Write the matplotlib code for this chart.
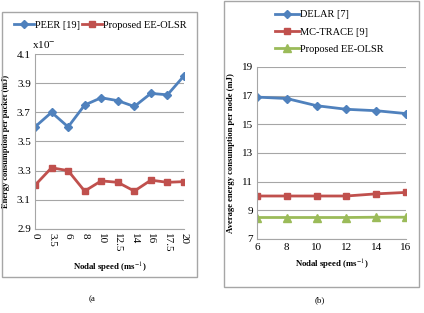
import matplotlib.pyplot as plt
from matplotlib.patches import Rectangle

plt.rcParams['font.family'] = ['Liberation Serif', 'DejaVu Serif']
plt.rcParams['mathtext.fontset'] = 'stix'

# (a) energy per packet vs nodal speed
speeds_a = ['0', '3.5', '6', '8', '10', '12.5', '14', '16', '17.5', '20']
peer = [3.60, 3.70, 3.60, 3.75, 3.80, 3.78, 3.74, 3.83, 3.82, 3.95]
eeolsr_a = [3.20, 3.32, 3.30, 3.16, 3.23, 3.22, 3.16, 3.235, 3.22, 3.225]

# (b) average energy per node vs nodal speed
speeds_b = [6, 8, 10, 12, 14, 16]
delar = [16.9, 16.8, 16.3, 16.05, 15.95, 15.75]
mctrace = [10.0, 10.0, 10.0, 10.0, 10.15, 10.25]
eeolsr_b = [8.5, 8.5, 8.5, 8.5, 8.52, 8.52]

blue, red, green = '#4F81BD', '#C0504D', '#9BBB59'
W, H = 424, 313

fig = plt.figure(figsize=(W / 100, H / 100), dpi=100)


def px_axes(x0, y0, x1, y1):
    return fig.add_axes([x0 / W, 1 - y1 / H, (x1 - x0) / W, (y1 - y0) / H])


def style(ax):
    for s in ['top', 'right']:
        ax.spines[s].set_visible(False)
    for s in ['left', 'bottom']:
        ax.spines[s].set_color('#A6A6A6')
    ax.yaxis.grid(True, color='#A6A6A6', lw=0.8)
    ax.set_axisbelow(True)
    ax.tick_params(length=0, labelsize=8, pad=3)


# panel frames
fig.patches.append(Rectangle((2 / W, 1 - 277 / H), 195 / W, 265 / H, transform=fig.transFigure,
                             fill=False, ec='#A6A6A6', lw=1))
fig.patches.append(Rectangle((224 / W, 1 - 287 / H), 195 / W, 286 / H, transform=fig.transFigure,
                             fill=False, ec='#A6A6A6', lw=1))

# panel (a)
ax1 = px_axes(35, 54, 184, 229)
xa = range(len(speeds_a))
ax1.plot(xa, peer, color=blue, marker='D', ms=4, lw=2, label='PEER [19]')
ax1.plot(xa, eeolsr_a, color=red, marker='s', ms=5, lw=2, label='Proposed EE-OLSR')
ax1.set_ylim(2.9, 4.1)
ax1.set_yticks([2.9, 3.1, 3.3, 3.5, 3.7, 3.9, 4.1])
ax1.set_yticklabels(['2.9', '3.1', '3.3', '3.5', '3.7', '3.9', '4.1'])
ax1.set_xlim(0, len(speeds_a) - 1)
ax1.set_xticks(list(xa))
ax1.set_xticklabels(speeds_a, rotation=-90)
style(ax1)
ax1.set_xlabel('Nodal speed (ms$^{-1}$)', fontsize=6.3, fontweight='bold', labelpad=6)
ax1.set_ylabel('Energy consumption per packet (mJ)', fontsize=6, fontweight='bold', labelpad=5)
ax1.text(-0.02, 1.02, 'x10$^{-}$', transform=ax1.transAxes, fontsize=8, va='bottom')
ax1.legend(loc='center', bbox_to_anchor=(0.44, 1.165), ncol=2, frameon=False,
           fontsize=7.5, handlelength=1.9, columnspacing=0.15, handletextpad=0.15, borderaxespad=0)

# panel (b)
ax2 = px_axes(257, 67, 406, 239)
ax2.plot(speeds_b, delar, color=blue, marker='D', ms=4, lw=2, label='DELAR [7]')
ax2.plot(speeds_b, mctrace, color=red, marker='s', ms=5, lw=2, label='MC-TRACE [9]')
ax2.plot(speeds_b, eeolsr_b, color=green, marker='^', ms=6, lw=2, label='Proposed EE-OLSR')
ax2.set_ylim(7, 19)
ax2.set_yticks([7, 9, 11, 13, 15, 17, 19])
ax2.set_xlim(6, 16)
ax2.set_xticks(speeds_b)
style(ax2)
ax2.set_xlabel('Nodal speed (ms$^{-1}$)', fontsize=6.3, fontweight='bold', labelpad=4)
ax2.set_ylabel('Average energy consumption per node (mJ)', fontsize=6.2, fontweight='bold', labelpad=5)
ax2.legend(loc='upper left', bbox_to_anchor=(0.09, 1.355), frameon=False, fontsize=7.5,
           handlelength=2.3, handletextpad=0.15, labelspacing=0.75, borderaxespad=0)

fig.text(92 / W, 1 - 299 / H, '(a', fontsize=6.5, ha='center', va='center')
fig.text(320 / W, 1 - 300 / H, '(b)', fontsize=6.5, ha='center', va='center')

fig.savefig('out.png', dpi=100)
